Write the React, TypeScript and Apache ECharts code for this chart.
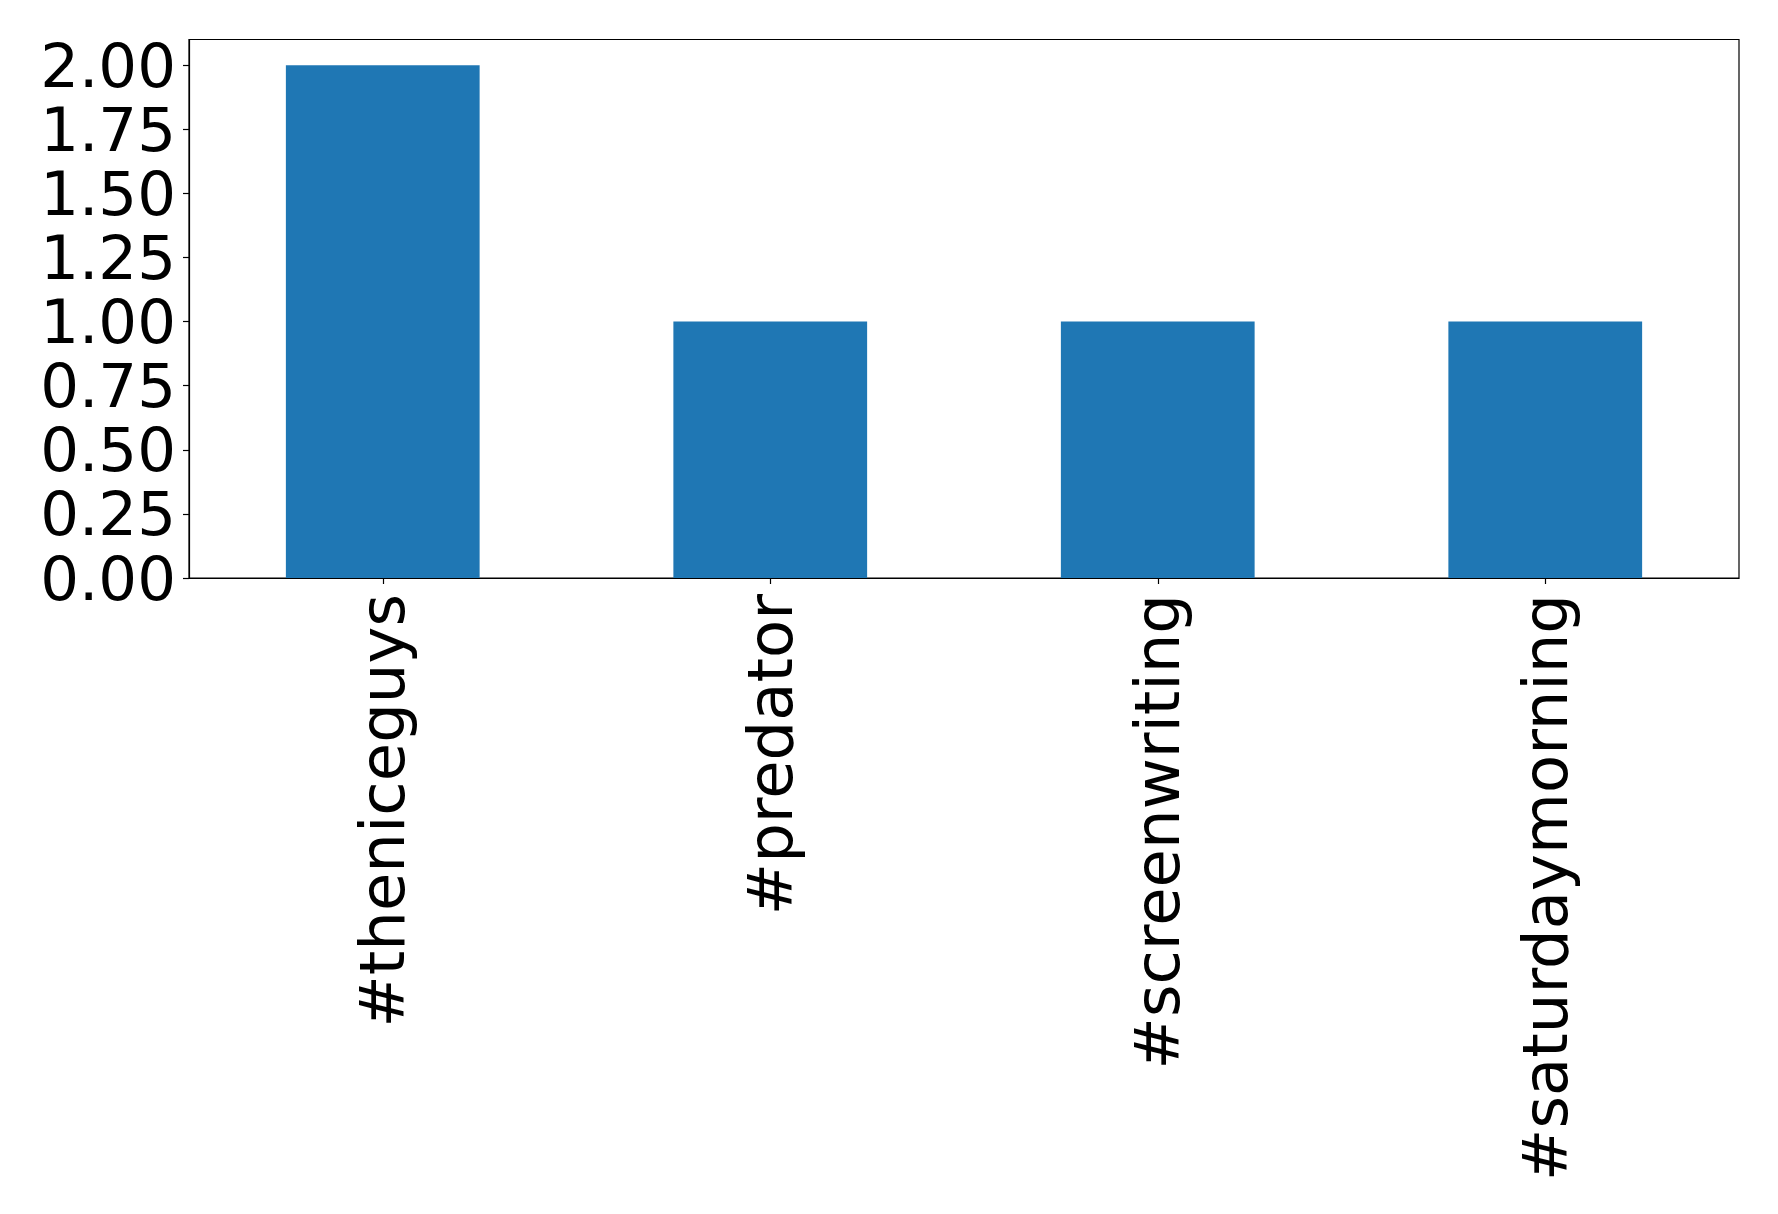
import React, { useEffect, useRef } from "react";
import * as echarts from "echarts";

const categories = ["#theniceguys", "#predator", "#screenwriting", "#saturdaymorning"];
const values = [2, 1, 1, 1];
const yTicks = [0, 0.25, 0.5, 0.75, 1.0, 1.25, 1.5, 1.75, 2.0];

export default function App() {
  const ref = useRef<HTMLDivElement>(null);
  useEffect(() => {
    if (!ref.current) return;
    const chart = echarts.init(ref.current, undefined, { renderer: "svg" });
    const font = "DejaVu Sans";
    chart.setOption({
      animation: false,
      backgroundColor: "#ffffff",
      grid: {
        left: 189,
        top: 39.5,
        right: 39,
        bottom: 636,
        show: true,
        borderColor: "#000000",
        borderWidth: 1.2,
        containLabel: false,
      },
      xAxis: {
        type: "category",
        data: categories,
        boundaryGap: true,
        axisLine: { show: true, lineStyle: { color: "#000000", width: 1.2 } },
        axisTick: { show: true, alignWithLabel: true, length: 6, lineStyle: { color: "#000000", width: 1.2 } },
        axisLabel: {
          rotate: 90,
          margin: 16,
          fontFamily: font,
          fontSize: 62.5,
          color: "#000000",
          interval: 0,
        },
        splitLine: { show: false },
      },
      yAxis: {
        type: "value",
        min: 0,
        max: 2.1,
        interval: 0.25,
        axisLine: { show: true, lineStyle: { color: "#000000", width: 1.2 } },
        axisTick: { show: true, length: 6, customValues: yTicks, lineStyle: { color: "#000000", width: 1.2 } },
        axisLabel: {
          customValues: yTicks,
          margin: 13,
          fontFamily: font,
          fontSize: 61,
          color: "#000000",
          formatter: (v: number) => v.toFixed(2),
        },
        splitLine: { show: false },
      },
      series: [
        {
          type: "bar",
          data: values,
          barWidth: "50%",
          itemStyle: { color: "#1f77b4" },
        },
      ],
    });
    return () => chart.dispose();
  }, []);
  return (
    <div
      ref={ref}
      style={{ position: "fixed", left: 0, top: 0, width: 1778, height: 1214, background: "#fff" }}
    />
  );
}
